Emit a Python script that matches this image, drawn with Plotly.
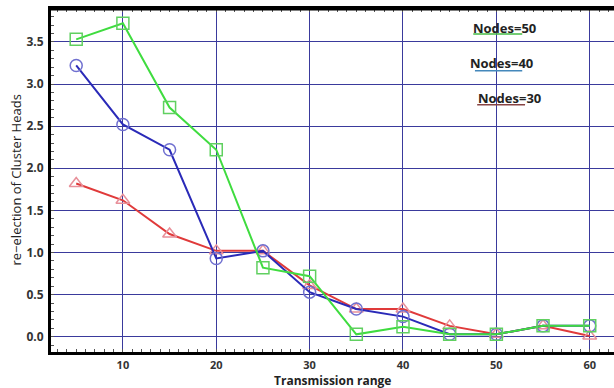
import plotly.graph_objects as go

x_range_vals = [5, 10, 15, 20, 25, 30, 35, 40, 45, 50, 55, 60]
nodes50 = [3.53, 3.72, 2.72, 2.22, 0.82, 0.72, 0.03, 0.12, 0.03, 0.03, 0.13, 0.13]
nodes40 = [3.22, 2.52, 2.22, 0.93, 1.02, 0.53, 0.33, 0.24, 0.03, 0.03, 0.13, 0.13]
nodes30 = [1.82, 1.62, 1.22, 1.02, 1.02, 0.61, 0.33, 0.33, 0.13, 0.03, 0.13, 0.01]
x_ticks = [10, 20, 30, 40, 50, 60]
y_ticks = [0.0, 0.5, 1.0, 1.5, 2.0, 2.5, 3.0, 3.5]
legend_labels = ["Nodes=50", "Nodes=40", "Nodes=30"]
x_title = "Transmission range"
y_title = "re\u2212election of Cluster Heads"

fig = go.Figure()
series = [
    (nodes30, "#e03a3a", "#e8909a", "triangle-up-open"),
    (nodes40, "#2a2ab8", "#7070d0", "circle-open"),
    (nodes50, "#3fdc3f", "#60d060", "square-open"),
]
for vals, lc, mc, sym in series:
    fig.add_trace(go.Scatter(
        x=x_range_vals, y=vals, mode="lines+markers",
        line=dict(color=lc, width=2),
        marker=dict(symbol=sym, size=12, color=mc, line=dict(width=1.5, color=mc)),
        showlegend=False,
    ))

grid_col = "#3a3a9c"
fig.update_xaxes(
    range=[2.3, 62.6], tickvals=x_ticks, ticktext=[str(t) for t in x_ticks],
    showgrid=True, gridcolor=grid_col, gridwidth=1,
    showline=True, linecolor="black", linewidth=3, mirror="ticks",
    ticks="", zeroline=False, automargin=False, ticklabelstandoff=1,
    minor=dict(ticks="inside", ticklen=3, tickcolor="#555", dtick=1, showgrid=False),
    tickfont=dict(family="Open Sans", size=11, color="#333333", weight="bold"),
)
fig.update_yaxes(
    range=[-0.18, 3.89], tickvals=y_ticks, ticktext=["%.1f" % t for t in y_ticks],
    showgrid=True, gridcolor=grid_col, gridwidth=1,
    showline=True, linecolor="black", linewidth=3,
    ticks="", zeroline=False, automargin=False, ticklabelstandoff=2,
    minor=dict(ticks="inside", ticklen=3, tickcolor="#555", dtick=0.1, showgrid=False),
    tickfont=dict(family="Open Sans", size=12, color="#333333", weight="bold"),
)

# axis titles
fig.add_annotation(x=0.5, y=0, xref="paper", yref="paper", text="<b>%s</b>" % x_title,
                   showarrow=False, xanchor="center", yanchor="middle", yshift=-28,
                   font=dict(family="Open Sans", size=12, color="#222222"))
fig.add_annotation(x=0, y=0.5, xref="paper", yref="paper", text=y_title, textangle=-90,
                   showarrow=False, xanchor="center", yanchor="middle", xshift=-36,
                   font=dict(family="Open Sans", size=13, color="#222222"))

# top border
fig.add_shape(type="line", xref="paper", yref="paper", x0=0, x1=1, y0=1, y1=1,
              layer="above", line=dict(color="black", width=3))

text_pos = [(0.75, 0.945), (0.744, 0.843), (0.758, 0.741)]
under_pos = [(0.75, 0.837, 0.927, "#44bb44"), (0.753, 0.837, 0.82, "#4488bb"),
             (0.757, 0.842, 0.721, "#884444")]
for (tx, ty), (ux0, ux1, uy, uc), lab in zip(text_pos, under_pos, legend_labels):
    fig.add_annotation(x=tx, y=ty, xref="paper", yref="paper", text="<b>%s</b>" % lab,
                       showarrow=False, xanchor="left", yanchor="middle", xshift=-2,
                       font=dict(family="Open Sans", size=13, color="#222222"))
    fig.add_shape(type="line", xref="paper", yref="paper", x0=ux0, x1=ux1,
                  y0=uy, y1=uy, line=dict(color=uc, width=1.5))

fig.update_layout(
    width=614, height=388,
    margin=dict(l=51, r=0, t=9, b=36),
    plot_bgcolor="white", paper_bgcolor="white",
)
fig.write_html("out.html", config={"displayModeBar": False},
               post_script="document.body.style.margin='0';document.body.style.overflow='hidden';")
